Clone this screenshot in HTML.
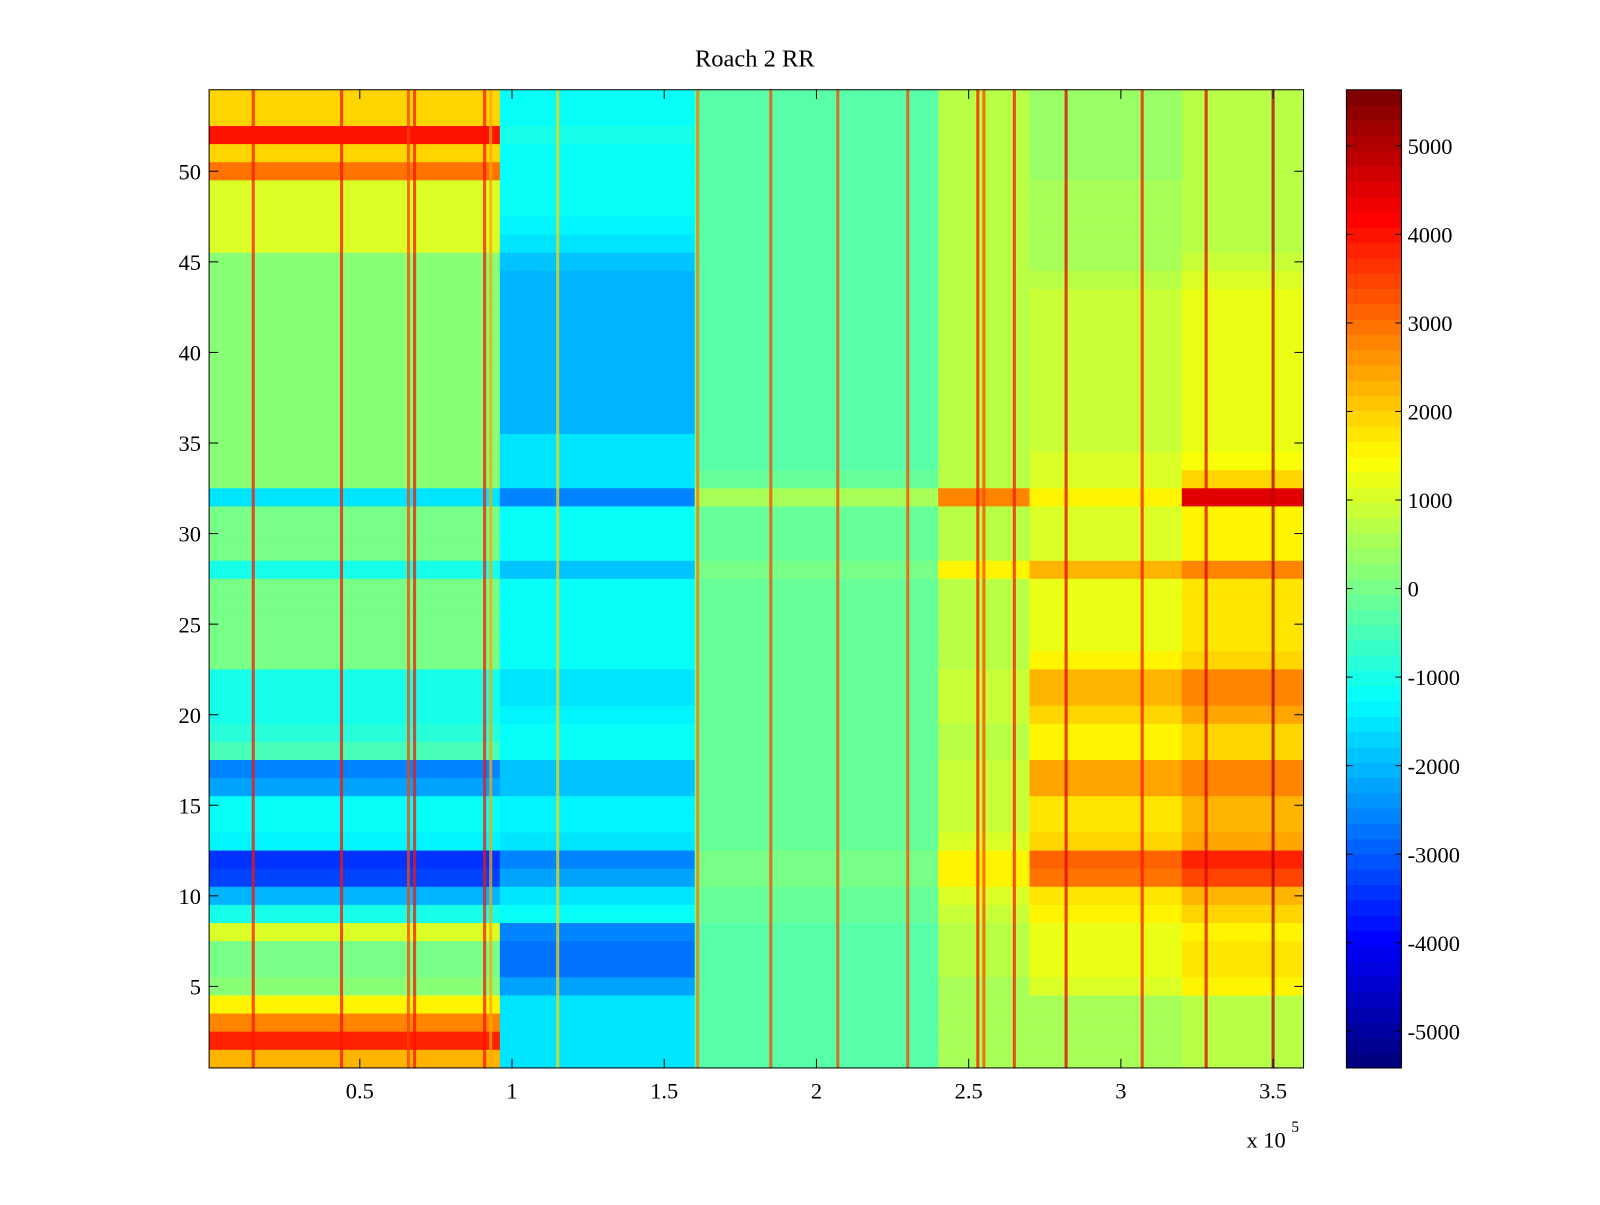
<!DOCTYPE html>
<html><head><meta charset="utf-8"><style>
html,body{margin:0;padding:0;background:#fff;}
svg text{font-family:"Liberation Serif",serif;fill:#000;}
</style></head><body>
<svg id="chart" width="1600" height="1200" xmlns="http://www.w3.org/2000/svg">
<rect x="0" y="0" width="1600" height="1200" fill="#fff"/>
<g transform="scale(1.02)">
<text x="740" y="65" font-size="24" text-anchor="middle">Roach 2 RR</text>
<g id="cells"></g>
<g id="stripes"></g>
<rect x="205" y="88" width="1073" height="959" fill="none" stroke="#000" stroke-width="1"/>
<g id="axes"></g>
<g id="cbar"></g>
<text x="1222" y="1125" font-size="22">x 10</text>
<text x="1266" y="1110" font-size="15">5</text>
</g>
</svg>
<script>
// segment boundaries (x in units of 1e5)
const segEdges=[0.005,0.96,1.6,2.4,2.7,3.2,3.6];
// row values, top row (54) first -> row 1 last; columns = segments
const rowValues=[
[2000,-1200,-300,700,400,700],
[2000,-1200,-300,700,400,700],
[4000,-1000,-300,700,400,700],
[2000,-1200,-300,700,400,700],
[3000,-1200,-300,700,400,700],
[1100,-1200,-300,700,500,800],
[1100,-1200,-300,700,500,800],
[1100,-1300,-300,700,500,800],
[1100,-1500,-300,700,500,800],
[200,-1800,-300,700,600,900],
[200,-2000,-300,800,700,1100],
[200,-2000,-300,800,900,1200],
[200,-2000,-300,800,900,1200],
[200,-2000,-300,800,900,1200],
[200,-2000,-300,800,900,1200],
[200,-2000,-300,800,900,1200],
[200,-2000,-300,800,900,1200],
[200,-2000,-300,800,900,1200],
[200,-2000,-300,800,900,1200],
[200,-1500,-300,800,900,1200],
[200,-1500,-300,800,1000,1400],
[200,-1500,-200,800,1000,2000],
[-1500,-2500,500,2800,1500,4500],
[0,-1200,-200,800,1000,1500],
[0,-1200,-200,800,1000,1500],
[0,-1200,-200,800,1000,1500],
[-1000,-1800,0,1500,2200,2800],
[0,-1200,-200,800,1300,1800],
[0,-1200,-200,800,1300,1800],
[0,-1200,-200,800,1300,1800],
[0,-1200,-200,800,1300,1800],
[0,-1200,-200,800,1500,2000],
[-1000,-1500,-200,900,2200,2800],
[-1000,-1500,-200,900,2200,2800],
[-1000,-1300,-200,900,2000,2500],
[-800,-1200,-200,800,1500,2000],
[-500,-1200,-200,800,1500,2000],
[-2500,-1800,-200,900,2500,2800],
[-2200,-1800,-200,900,2500,2800],
[-1200,-1300,-200,900,1800,2300],
[-1200,-1300,-200,900,1800,2200],
[-1300,-1500,-200,1000,2000,2500],
[-3500,-2500,0,1500,3200,3800],
[-3300,-2300,0,1500,3000,3500],
[-2000,-1500,-100,1000,1800,2300],
[-1000,-1200,-200,900,1500,2000],
[1000,-2500,-300,700,1200,1500],
[0,-2800,-300,700,1300,1800],
[0,-2800,-300,700,1300,1800],
[200,-2200,-300,600,1100,1500],
[1500,-1500,-300,600,600,800],
[2800,-1500,-300,500,600,800],
[3800,-1500,-300,500,600,800],
[2200,-1500,-300,500,600,800]
];
// vertical high-value streaks
const stripeX=[0.15,0.44,0.66,0.68,0.91,0.93,1.15,1.61,1.85,2.07,2.3,2.53,2.55,2.65,2.82,3.07,3.28,3.5];
const stripeVal=[4000,4000,3500,4000,4000,2500,2000,3000,3500,3500,3500,4000,3500,4000,4500,4000,4500,5000];
const xTicks=[0.5,1,1.5,2,2.5,3,3.5];
const xTickLabels=["0.5","1","1.5","2","2.5","3","3.5"];
const yTicks=[5,10,15,20,25,30,35,40,45,50];
const cTicks=[-5000,-4000,-3000,-2000,-1000,0,1000,2000,3000,4000,5000];

const NS="http://www.w3.org/2000/svg";
const L=205,R=1278,T=88,B=1047;
const xMin=0.005,xMax=3.6,yMin=0.5,yMax=54.5,cMin=-5415,cMax=5634;
const xs=v=>L+(v-xMin)/(xMax-xMin)*(R-L);
const ys=v=>B-(v-yMin)/(yMax-yMin)*(B-T);
function jet(v){let t=(v-cMin)/(cMax-cMin);t=Math.max(0,Math.min(1,t));t=Math.min(63,Math.floor(t*64))/63;
 const c=x=>Math.round(255*Math.max(0,Math.min(1,x)));
 return `rgb(${c(1.5-Math.abs(4*t-3))},${c(1.5-Math.abs(4*t-2))},${c(1.5-Math.abs(4*t-1))})`;}
function mk(tag,attrs,parent){const e=document.createElementNS(NS,tag);for(const k in attrs)e.setAttribute(k,attrs[k]);parent.appendChild(e);return e;}

const cells=document.getElementById('cells');
const nRows=rowValues.length;
rowValues.forEach((row,i)=>{const r=nRows-i;
 row.forEach((v,s)=>{
  const x0=xs(segEdges[s]),x1=xs(segEdges[s+1]);
  const y0=ys(r+0.5),y1=ys(r-0.5);
  const e=mk('rect',{x:x0,y:y0,width:x1-x0+0.5,height:y1-y0+0.5,fill:jet(v)},cells);
  
  
 });});
const stripes=document.getElementById('stripes');
stripeX.forEach((x,i)=>{
 const e=mk('rect',{x:xs(x)-1.5,y:T,width:3,height:B-T,fill:jet(stripeVal[i]),opacity:0.75},stripes);
 
 
});
const axes=document.getElementById('axes');
xTicks.forEach((t,i)=>{const x=xs(t);
 mk('line',{x1:x,x2:x,y1:B,y2:B-9,stroke:'#000'},axes);
 mk('line',{x1:x,x2:x,y1:T,y2:T+9,stroke:'#000'},axes);
 const tx=mk('text',{x:x,y:B+30,'font-size':22,'text-anchor':'middle'},axes);tx.textContent=xTickLabels[i];
 
 
});
yTicks.forEach(t=>{const y=ys(t);
 mk('line',{x1:L,x2:L+9,y1:y,y2:y,stroke:'#000'},axes);
 mk('line',{x1:R,x2:R-9,y1:y,y2:y,stroke:'#000'},axes);
 const tx=mk('text',{x:L-8,y:y+8,'font-size':22,'text-anchor':'end'},axes);tx.textContent=t;
 
 
});
const cb=document.getElementById('cbar');
const CL=1320,CR=1374;
const cy=v=>B-(v-cMin)/(cMax-cMin)*(B-T);
for(let k=0;k<64;k++){const v0=cMin+(cMax-cMin)*k/64,v1=cMin+(cMax-cMin)*(k+1)/64;
 const e=mk('rect',{x:CL,y:cy(v1),width:CR-CL,height:cy(v0)-cy(v1)+0.5,fill:jet((v0+v1)/2)},cb);
 
 
}
mk('rect',{x:CL,y:T,width:CR-CL,height:B-T,fill:'none',stroke:'#000'},cb);
cTicks.forEach(t=>{const y=cy(t);
 mk('line',{x1:CL,x2:CL+6,y1:y,y2:y,stroke:'#000'},cb);
 mk('line',{x1:CR,x2:CR-6,y1:y,y2:y,stroke:'#000'},cb);
 const tx=mk('text',{x:CR+6,y:y+8,'font-size':22},cb);tx.textContent=t;
 
 
});
</script>
</body></html>
